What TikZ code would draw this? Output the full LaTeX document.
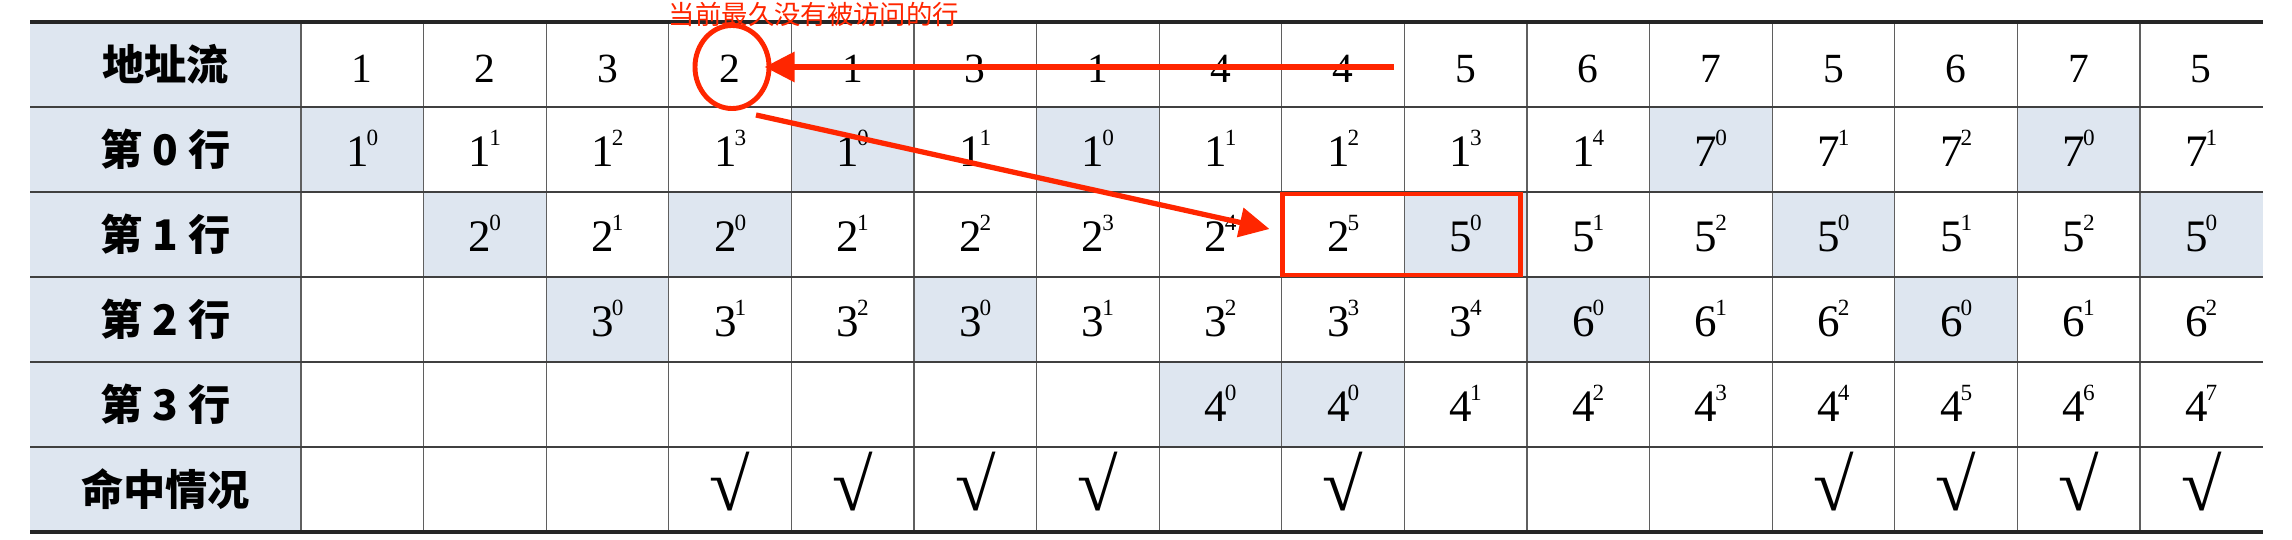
\documentclass[tikz,border=0pt]{standalone}
\usepackage{fontspec}
\setmainfont{Liberation Serif}
\newfontfamily\cjk{Noto Sans CJK SC}
\usetikzlibrary{arrows.meta,shapes.geometric}
\definecolor{lite}{RGB}{222,230,240}
\definecolor{hot}{RGB}{255,38,0}
\definecolor{grid}{RGB}{95,95,95}
\newcommand{\lru}[2]{#1\kern-0.6pt\raisebox{6pt}{\fontsize{6.6}{7}\selectfont #2}}
\tikzset{
	cell/.style={inner sep=0pt, text height=0.34cm, text depth=0pt, font=\fontsize{12.8}{13}\selectfont},
	addr/.style={cell, text height=0.35cm, font=\fontsize{11.8}{12}\selectfont},
	tick/.style={cell, text height=0.41cm, font=\fontsize{21}{21}\selectfont},
	rowname/.style={inner sep=0pt, text height=0.32cm, text depth=0pt, font=\cjk\bfseries\fontsize{12}{12}\selectfont},
	note/.style={text=hot, inner sep=0pt, text height=0.2cm, text depth=0pt, font=\cjk\fontsize{7.5}{8}\selectfont},
	vline/.style={draw=grid, line width=0.35pt},
	hline/.style={draw=black!75, line width=0.6pt},
	rule/.style={draw=black!85, line width=0.9pt},
	hotarrow/.style={draw=hot, line width=1.7pt, -{Triangle[length=0.3cm,width=0.29cm]}}
}
\begin{document}
\begin{tikzpicture}[x=0.01cm, y=-0.01cm]
	\useasboundingbox (0,0) rectangle (2292,540);

	% shaded cells
	\fill[lite] (30,22) rectangle (301,532);
	\foreach \r/\k in {1/1,1/5,1/7,1/12,1/15,2/2,2/4,2/10,2/13,2/16,3/3,3/6,3/11,3/14,4/8,4/9}
		\fill[lite] ({178.4+122.6*\k},{22+85*\r}) rectangle ({301+122.6*\k},{107+85*\r});

	% grid
	\foreach \k in {0,...,15}
		\draw[vline] ({301+122.6*\k},22) -- ({301+122.6*\k},532);
	\foreach \y in {107,192,277,362,447}
		\draw[hline] (30,\y) -- (2263,\y);
	\draw[rule] (30,22) -- (2263,22);
	\draw[rule] (30,532) -- (2263,532);

	% row names
	\node[rowname] (lab-a) at (165.5,64.5) {地址流};
	\node[rowname] (lab-0) at (165.5,149.5) {第 0 行};
	\node[rowname] (lab-1) at (165.5,234.5) {第 1 行};
	\node[rowname] (lab-2) at (165.5,319.5) {第 2 行};
	\node[rowname] (lab-3) at (165.5,404.5) {第 3 行};
	\node[rowname] (lab-h) at (165.5,489.5) {命中情况};

	% address stream
	\foreach \v [count=\k] in {1,2,3,2,1,3,1,4,4,5,6,7,5,6,7,5}
		\node[addr] (a-\k) at ({239.7+122.6*\k},64.5) {\v};

	% counters of each line
	\foreach \b/\e [count=\k] in {1/0,1/1,1/2,1/3,1/0,1/1,1/0,1/1,1/2,1/3,1/4,7/0,7/1,7/2,7/0,7/1}
		\node[cell] (line0-\k) at ({239.7+122.6*\k},149.5) {\lru{\b}{\e}};
	\foreach \b/\e [count=\k from 2] in {2/0,2/1,2/0,2/1,2/2,2/3,2/4,2/5,5/0,5/1,5/2,5/0,5/1,5/2,5/0}
		\node[cell] (line1-\k) at ({239.7+122.6*\k},234.5) {\lru{\b}{\e}};
	\foreach \b/\e [count=\k from 3] in {3/0,3/1,3/2,3/0,3/1,3/2,3/3,3/4,6/0,6/1,6/2,6/0,6/1,6/2}
		\node[cell] (line2-\k) at ({239.7+122.6*\k},319.5) {\lru{\b}{\e}};
	\foreach \b/\e [count=\k from 8] in {4/0,4/0,4/1,4/2,4/3,4/4,4/5,4/6,4/7}
		\node[cell] (line3-\k) at ({239.7+122.6*\k},404.5) {\lru{\b}{\e}};

	% hits
	\foreach \k in {4,5,6,7,9,13,14,15,16}
		\node[tick] (hit-\k) at ({239.7+122.6*\k},489.5) {√};

	% annotation
	\node[note] (note) at (814,15) {当前最久没有被访问的行};
	\node[draw=hot, ellipse, line width=1.4pt, minimum width=0.74cm, minimum height=0.83cm, inner sep=0pt] (ring) at (732,67) {};
	\node[draw=hot, line width=1.4pt, minimum width=2.37cm, minimum height=0.81cm, inner sep=0pt] (evict) at (1401.5,234.5) {};
	\coordinate (tail) at (1394,67);
	\coordinate (d0) at (756,115);

	\draw[hotarrow] (tail) -- ([xshift=-0.07cm]ring.east);
	\draw[hotarrow, line width=1.5pt] (d0) -- ([shift={(-11,-5.5)}]evict.west);
\end{tikzpicture}
\end{document}
